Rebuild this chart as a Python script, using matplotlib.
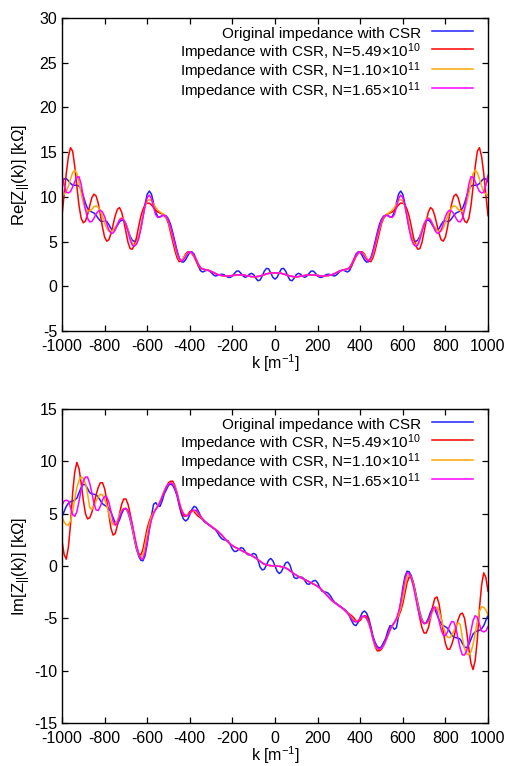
import matplotlib
matplotlib.use("Agg")
import matplotlib.pyplot as plt
import numpy as np

plt.rcParams['font.family'] = ['Liberation Sans', 'DejaVu Sans']
plt.rcParams['mathtext.fontset'] = 'custom'
plt.rcParams['mathtext.rm'] = 'Liberation Sans'
plt.rcParams['mathtext.it'] = 'Liberation Sans:italic'
plt.rcParams['axes.unicode_minus'] = False

# wavenumber grid, k = -1000 ... 1000 step 10
k = np.arange(-1000, 1001, 10)

# ---- real part [kOhm] ----
re_orig = [11.7,
    12.0, 12.05, 11.8, 11.5, 11.3, 11.3, 11.3, 11.2, 10.8, 10.1,
    9.3, 8.7, 8.45, 8.3, 8.2, 7.95, 7.6, 7.3, 7.25, 7.3,
    7.25, 6.9, 6.45, 6.3, 6.45, 6.8, 7.2, 7.4, 7.35, 7.0,
    6.3, 5.6, 5.15, 5.0, 5.15, 5.6, 6.5, 7.8, 9.2, 10.3,
    10.65, 10.3, 9.3, 8.3, 7.75, 7.75, 7.9, 7.95, 7.85, 7.5,
    6.9, 6.0, 5.0, 4.0, 3.2, 2.75, 2.7, 2.95, 3.4, 3.8,
    3.85, 3.6, 3.0, 2.3, 1.75, 1.6, 1.7, 1.8, 1.75, 1.55,
    1.3, 1.15, 1.2, 1.3, 1.35, 1.3, 1.15, 1.0, 1.0, 1.15,
    1.45, 1.7, 1.7, 1.45, 1.15, 1.0, 1.1, 1.35, 1.45, 1.3,
    0.9, 0.62, 0.7, 1.15, 1.7, 2.0, 1.95, 1.5, 1.0,
    0.8, 1.0, 1.5, 1.95, 2.0, 1.7, 1.15, 0.7, 0.62, 0.9,
    1.3, 1.45, 1.35, 1.1, 1.0, 1.15, 1.45, 1.7, 1.7, 1.45,
    1.15, 1.0, 1.0, 1.15, 1.3, 1.35, 1.3, 1.2, 1.15, 1.3,
    1.55, 1.75, 1.8, 1.7, 1.6, 1.75, 2.3, 3.0, 3.6, 3.85,
    3.8, 3.4, 2.95, 2.7, 2.75, 3.2, 4.0, 5.0, 6.0, 6.9,
    7.5, 7.85, 7.95, 7.9, 7.75, 7.75, 8.3, 9.3, 10.3, 10.65,
    10.3, 9.2, 7.8, 6.5, 5.6, 5.15, 5.0, 5.15, 5.6, 6.3,
    7.0, 7.35, 7.4, 7.2, 6.8, 6.45, 6.3, 6.45, 6.9, 7.25,
    7.3, 7.25, 7.3, 7.6, 7.95, 8.2, 8.3, 8.45, 8.7, 9.3,
    10.1, 10.8, 11.2, 11.3, 11.3, 11.3, 11.5, 11.8, 12.05, 12.0,
    11.7]

re_n1 = [7.9,
    10.3, 12.6, 14.5, 15.5, 15.1, 13.4, 11.1, 9.0, 7.6, 7.1,
    7.3, 8.0, 9.0, 9.9, 10.3, 10.1, 9.3, 8.0, 6.6, 5.5,
    5.05, 5.2, 5.9, 6.9, 7.9, 8.6, 8.8, 8.3, 7.3, 6.1,
    4.9, 4.2, 4.15, 4.6, 5.5, 6.7, 7.8, 8.6, 9.1, 9.3,
    9.3, 9.1, 8.8, 8.5, 8.3, 8.2, 8.1, 7.9, 7.6, 7.0,
    6.0, 5.0, 4.0, 3.2, 2.75, 2.85, 3.15, 3.6, 3.85, 3.85,
    3.65, 3.3, 2.8, 2.3, 2.0, 1.93, 1.87, 1.82, 1.76, 1.67,
    1.55, 1.42, 1.32, 1.25, 1.2, 1.17, 1.15, 1.15, 1.17, 1.2,
    1.24, 1.27, 1.28, 1.28, 1.26, 1.22, 1.17, 1.12, 1.08, 1.06,
    1.07, 1.1, 1.15, 1.22, 1.3, 1.38, 1.44, 1.48, 1.5,
    1.5, 1.5, 1.48, 1.44, 1.38, 1.3, 1.22, 1.15, 1.1, 1.07,
    1.06, 1.08, 1.12, 1.17, 1.22, 1.26, 1.28, 1.28, 1.27, 1.24,
    1.2, 1.17, 1.15, 1.15, 1.17, 1.2, 1.25, 1.32, 1.42, 1.55,
    1.67, 1.76, 1.82, 1.87, 1.93, 2.0, 2.3, 2.8, 3.3, 3.65,
    3.85, 3.85, 3.6, 3.15, 2.85, 2.75, 3.2, 4.0, 5.0, 6.0,
    7.0, 7.6, 7.9, 8.1, 8.2, 8.3, 8.5, 8.8, 9.1, 9.3,
    9.3, 9.1, 8.6, 7.8, 6.7, 5.5, 4.6, 4.15, 4.2, 4.9,
    6.1, 7.3, 8.3, 8.8, 8.6, 7.9, 6.9, 5.9, 5.2, 5.05,
    5.5, 6.6, 8.0, 9.3, 10.1, 10.3, 9.9, 9.0, 8.0, 7.3,
    7.1, 7.6, 9.0, 11.1, 13.4, 15.1, 15.5, 14.5, 12.6, 10.3,
    7.9]

re_n2 = [10.2,
    10.3, 10.6, 11.2, 12.0, 12.7, 13.0, 12.6, 11.6, 10.4, 9.3,
    8.6, 8.4, 8.45, 8.6, 8.9, 9.0, 8.85, 8.4, 7.8, 7.1,
    6.5, 6.15, 6.1, 6.3, 6.6, 7.0, 7.5, 7.65, 7.5, 7.0,
    6.3, 5.4, 4.8, 4.6, 4.9, 5.6, 6.7, 7.9, 8.9, 9.5,
    9.7, 9.6, 9.2, 8.8, 8.5, 8.3, 8.15, 8.0, 7.7, 7.2,
    6.4, 5.5, 4.5, 3.6, 3.0, 2.9, 3.1, 3.5, 3.75, 3.8,
    3.7, 3.4, 3.0, 2.5, 2.1, 1.93, 1.87, 1.82, 1.76, 1.67,
    1.55, 1.42, 1.32, 1.25, 1.2, 1.17, 1.15, 1.15, 1.17, 1.2,
    1.24, 1.27, 1.28, 1.28, 1.26, 1.22, 1.17, 1.12, 1.08, 1.06,
    1.07, 1.1, 1.15, 1.22, 1.3, 1.38, 1.44, 1.48, 1.5,
    1.5, 1.5, 1.48, 1.44, 1.38, 1.3, 1.22, 1.15, 1.1, 1.07,
    1.06, 1.08, 1.12, 1.17, 1.22, 1.26, 1.28, 1.28, 1.27, 1.24,
    1.2, 1.17, 1.15, 1.15, 1.17, 1.2, 1.25, 1.32, 1.42, 1.55,
    1.67, 1.76, 1.82, 1.87, 1.93, 2.1, 2.5, 3.0, 3.4, 3.7,
    3.8, 3.75, 3.5, 3.1, 2.9, 3.0, 3.6, 4.5, 5.5, 6.4,
    7.2, 7.7, 8.0, 8.15, 8.3, 8.5, 8.8, 9.2, 9.6, 9.7,
    9.5, 8.9, 7.9, 6.7, 5.6, 4.9, 4.6, 4.8, 5.4, 6.3,
    7.0, 7.5, 7.65, 7.5, 7.0, 6.6, 6.3, 6.1, 6.15, 6.5,
    7.1, 7.8, 8.4, 8.85, 9.0, 8.9, 8.6, 8.45, 8.4, 8.6,
    9.3, 10.4, 11.6, 12.6, 13.0, 12.7, 12.0, 11.2, 10.6, 10.3,
    10.2]

re_n3 = [12.4,
    11.3, 10.5, 10.45, 10.6, 11.1, 11.7, 12.2, 12.25, 11.4, 10.0,
    8.6, 7.6, 7.2, 7.25, 7.6, 8.1, 8.4, 8.5, 8.3, 7.8,
    7.0, 6.3, 5.95, 5.95, 6.3, 6.9, 7.4, 7.6, 7.4, 6.9,
    6.1, 5.2, 4.6, 4.5, 4.7, 5.3, 6.4, 7.7, 9.0, 9.9,
    10.2, 9.8, 8.8, 8.0, 7.7, 7.75, 7.9, 7.95, 7.8, 7.3,
    6.6, 5.7, 4.7, 3.8, 3.1, 2.85, 2.95, 3.3, 3.7, 3.85,
    3.75, 3.45, 3.0, 2.5, 2.1, 1.93, 1.87, 1.82, 1.76, 1.67,
    1.55, 1.42, 1.32, 1.25, 1.2, 1.17, 1.15, 1.15, 1.17, 1.2,
    1.24, 1.27, 1.28, 1.28, 1.26, 1.22, 1.17, 1.12, 1.08, 1.06,
    1.07, 1.1, 1.15, 1.22, 1.3, 1.38, 1.44, 1.48, 1.5,
    1.5, 1.5, 1.48, 1.44, 1.38, 1.3, 1.22, 1.15, 1.1, 1.07,
    1.06, 1.08, 1.12, 1.17, 1.22, 1.26, 1.28, 1.28, 1.27, 1.24,
    1.2, 1.17, 1.15, 1.15, 1.17, 1.2, 1.25, 1.32, 1.42, 1.55,
    1.67, 1.76, 1.82, 1.87, 1.93, 2.1, 2.5, 3.0, 3.45, 3.75,
    3.85, 3.7, 3.3, 2.95, 2.85, 3.1, 3.8, 4.7, 5.7, 6.6,
    7.3, 7.8, 7.95, 7.9, 7.75, 7.7, 8.0, 8.8, 9.8, 10.2,
    9.9, 9.0, 7.7, 6.4, 5.3, 4.7, 4.5, 4.6, 5.2, 6.1,
    6.9, 7.4, 7.6, 7.4, 6.9, 6.3, 5.95, 5.95, 6.3, 7.0,
    7.8, 8.3, 8.5, 8.4, 8.1, 7.6, 7.25, 7.2, 7.6, 8.6,
    10.0, 11.4, 12.25, 12.2, 11.7, 11.1, 10.6, 10.45, 10.5, 11.3,
    12.4]

# ---- imaginary part [kOhm] ----
im_orig = [4.7,
    5.2, 5.7, 6.0, 6.15, 6.2, 6.3, 6.5, 7.0, 7.5, 7.8,
    7.75, 7.4, 7.0, 6.9, 6.85, 6.8, 6.6, 6.25, 5.95, 5.8,
    5.7, 5.5, 5.15, 4.6, 4.15, 4.0, 4.4, 5.0, 5.4, 5.5,
    5.1, 4.4, 3.5, 2.5, 1.6, 0.95, 0.55, 0.5, 1.0, 2.1,
    3.5, 4.8, 5.9, 6.05, 5.75, 5.7, 6.2, 6.9, 7.3, 7.7,
    7.85, 7.7, 7.3, 6.7, 5.8, 5.0, 4.5, 4.3, 4.45, 4.9,
    5.4, 5.7, 5.6, 5.25, 4.8, 4.45, 4.2, 4.05, 3.9, 3.75,
    3.6, 3.45, 3.2, 2.85, 2.6, 2.5, 2.48, 2.4, 2.05, 1.6,
    1.38, 1.42, 1.6, 1.75, 1.7, 1.4, 1.1, 1.05, 1.1, 1.2,
    1.1, 0.55, -0.1, -0.38, -0.3, 0.1, 0.55, 0.72, 0.5,
    0.0, -0.5, -0.72, -0.55, -0.1, 0.3, 0.38, 0.1, -0.55, -1.1,
    -1.2, -1.1, -1.05, -1.1, -1.4, -1.7, -1.75, -1.6, -1.42, -1.38,
    -1.6, -2.05, -2.4, -2.48, -2.5, -2.6, -2.85, -3.2, -3.45, -3.6,
    -3.75, -3.9, -4.05, -4.2, -4.45, -4.8, -5.25, -5.6, -5.7, -5.4,
    -4.9, -4.45, -4.3, -4.5, -5.0, -5.8, -6.7, -7.3, -7.7, -7.85,
    -7.7, -7.3, -6.9, -6.2, -5.7, -5.75, -6.05, -5.9, -4.8, -3.5,
    -2.1, -1.0, -0.5, -0.55, -0.95, -1.6, -2.5, -3.5, -4.4, -5.1,
    -5.5, -5.4, -5.0, -4.4, -4.0, -4.15, -4.6, -5.15, -5.5, -5.7,
    -5.8, -5.95, -6.25, -6.6, -6.8, -6.85, -6.9, -7.0, -7.4, -7.75,
    -7.8, -7.5, -7.0, -6.5, -6.3, -6.2, -6.15, -6.0, -5.7, -5.2,
    -4.7]

im_n1 = [2.4,
    1.1, 0.65, 1.8, 4.0, 7.0, 9.0, 9.9, 9.3, 7.9, 6.3,
    5.0, 4.5, 4.6, 5.1, 5.9, 6.8, 7.5, 7.95, 7.95, 7.4,
    6.3, 4.9, 3.6, 2.95, 3.1, 3.9, 5.0, 5.9, 6.4, 6.4,
    5.9, 5.0, 3.9, 2.7, 1.7, 1.15, 1.05, 1.6, 2.6, 3.6,
    4.3, 4.8, 5.15, 5.4, 5.7, 6.1, 6.6, 7.1, 7.6, 7.95,
    8.1, 8.1, 7.7, 7.0, 6.0, 5.2, 4.8, 4.75, 4.9, 5.2,
    5.3, 5.2, 4.95, 4.75, 4.6, 4.45, 4.25, 4.1, 3.95, 3.8,
    3.65, 3.5, 3.35, 3.15, 2.95, 2.72, 2.5, 2.3, 2.1, 1.95,
    1.82, 1.72, 1.62, 1.5, 1.4, 1.3, 1.2, 1.1, 1.0, 0.88,
    0.75, 0.6, 0.45, 0.3, 0.18, 0.1, 0.06, 0.03, 0.01,
    0.0, -0.01, -0.03, -0.06, -0.1, -0.18, -0.3, -0.45, -0.6, -0.75,
    -0.88, -1.0, -1.1, -1.2, -1.3, -1.4, -1.5, -1.62, -1.72, -1.82,
    -1.95, -2.1, -2.3, -2.5, -2.72, -2.95, -3.15, -3.35, -3.5, -3.65,
    -3.8, -3.95, -4.1, -4.25, -4.45, -4.6, -4.75, -4.95, -5.2, -5.3,
    -5.2, -4.9, -4.75, -4.8, -5.2, -6.0, -7.0, -7.7, -8.1, -8.1,
    -7.95, -7.6, -7.1, -6.6, -6.1, -5.7, -5.4, -5.15, -4.8, -4.3,
    -3.6, -2.6, -1.6, -1.05, -1.15, -1.7, -2.7, -3.9, -5.0, -5.9,
    -6.4, -6.4, -5.9, -5.0, -3.9, -3.1, -2.95, -3.6, -4.9, -6.3,
    -7.4, -7.95, -7.95, -7.5, -6.8, -5.9, -5.1, -4.6, -4.5, -5.0,
    -6.3, -7.9, -9.3, -9.9, -9.0, -7.0, -4.0, -1.8, -0.65, -1.1,
    -2.4]

im_n2 = [4.7,
    4.2, 3.95, 3.9, 4.3, 5.2, 6.4, 7.5, 8.2, 8.5, 8.4,
    7.9, 6.9, 5.6, 5.4, 5.7, 6.2, 6.6, 6.85, 6.8, 6.4,
    5.8, 5.0, 4.3, 3.95, 4.0, 4.4, 4.9, 5.3, 5.5, 5.5,
    5.2, 4.6, 3.7, 2.7, 1.8, 1.1, 0.75, 1.1, 2.0, 3.1,
    4.0, 4.7, 5.1, 5.45, 5.8, 6.2, 6.7, 7.2, 7.6, 7.85,
    7.95, 7.9, 7.6, 7.0, 6.2, 5.5, 5.05, 4.85, 4.85, 5.0,
    5.2, 5.3, 5.2, 4.95, 4.7, 4.5, 4.3, 4.1, 3.95, 3.8,
    3.65, 3.5, 3.35, 3.15, 2.95, 2.72, 2.5, 2.3, 2.1, 1.95,
    1.82, 1.72, 1.62, 1.5, 1.4, 1.3, 1.2, 1.1, 1.0, 0.88,
    0.75, 0.6, 0.45, 0.3, 0.18, 0.1, 0.06, 0.03, 0.01,
    0.0, -0.01, -0.03, -0.06, -0.1, -0.18, -0.3, -0.45, -0.6, -0.75,
    -0.88, -1.0, -1.1, -1.2, -1.3, -1.4, -1.5, -1.62, -1.72, -1.82,
    -1.95, -2.1, -2.3, -2.5, -2.72, -2.95, -3.15, -3.35, -3.5, -3.65,
    -3.8, -3.95, -4.1, -4.3, -4.5, -4.7, -4.95, -5.2, -5.3, -5.2,
    -5.0, -4.85, -4.85, -5.05, -5.5, -6.2, -7.0, -7.6, -7.9, -7.95,
    -7.85, -7.6, -7.2, -6.7, -6.2, -5.8, -5.45, -5.1, -4.7, -4.0,
    -3.1, -2.0, -1.1, -0.75, -1.1, -1.8, -2.7, -3.7, -4.6, -5.2,
    -5.5, -5.5, -5.3, -4.9, -4.4, -4.0, -3.95, -4.3, -5.0, -5.8,
    -6.4, -6.8, -6.85, -6.6, -6.2, -5.7, -5.4, -5.6, -6.9, -7.9,
    -8.4, -8.5, -8.2, -7.5, -6.4, -5.2, -4.3, -3.9, -3.95, -4.2,
    -4.7]

im_n3 = [5.8,
    6.2, 6.3, 6.2, 5.6, 4.9, 4.75, 5.2, 6.2, 7.3, 8.1,
    8.5, 8.5, 7.9, 7.0, 6.0, 5.35, 5.3, 5.7, 6.3, 6.65,
    6.6, 6.1, 5.2, 4.3, 3.9, 4.1, 4.7, 5.2, 5.45, 5.5,
    5.3, 4.8, 4.0, 3.0, 2.0, 1.2, 0.7, 0.65, 1.3, 2.4,
    3.5, 4.4, 5.0, 5.4, 5.7, 6.1, 6.6, 7.1, 7.55, 7.85,
    7.95, 7.85, 7.5, 6.9, 6.1, 5.4, 5.0, 4.8, 4.8, 5.0,
    5.25, 5.35, 5.3, 5.05, 4.75, 4.5, 4.3, 4.1, 3.95, 3.8,
    3.65, 3.5, 3.35, 3.15, 2.95, 2.72, 2.5, 2.3, 2.1, 1.95,
    1.82, 1.72, 1.62, 1.5, 1.4, 1.3, 1.2, 1.1, 1.0, 0.88,
    0.75, 0.6, 0.45, 0.3, 0.18, 0.1, 0.06, 0.03, 0.01,
    0.0, -0.01, -0.03, -0.06, -0.1, -0.18, -0.3, -0.45, -0.6, -0.75,
    -0.88, -1.0, -1.1, -1.2, -1.3, -1.4, -1.5, -1.62, -1.72, -1.82,
    -1.95, -2.1, -2.3, -2.5, -2.72, -2.95, -3.15, -3.35, -3.5, -3.65,
    -3.8, -3.95, -4.1, -4.3, -4.5, -4.75, -5.05, -5.3, -5.35, -5.25,
    -5.0, -4.8, -4.8, -5.0, -5.4, -6.1, -6.9, -7.5, -7.85, -7.95,
    -7.85, -7.55, -7.1, -6.6, -6.1, -5.7, -5.4, -5.0, -4.4, -3.5,
    -2.4, -1.3, -0.65, -0.7, -1.2, -2.0, -3.0, -4.0, -4.8, -5.3,
    -5.5, -5.45, -5.2, -4.7, -4.1, -3.9, -4.3, -5.2, -6.1, -6.6,
    -6.65, -6.3, -5.7, -5.3, -5.35, -6.0, -7.0, -7.9, -8.5, -8.5,
    -8.1, -7.3, -6.2, -5.2, -4.75, -4.9, -5.6, -6.2, -6.3, -6.2,
    -5.8]

labels = ["Original impedance with CSR",
          "Impedance with CSR, N=5.49×10$^{10}$",
          "Impedance with CSR, N=1.10×10$^{11}$",
          "Impedance with CSR, N=1.65×10$^{11}$"]
colors = ["#2020ff", "#ff0000", "#ffa500", "#ff00ff"]

xticks = list(range(-1000, 1001, 200))


def style_axes(ax, ylim, ystep, ylabel):
    ax.set_xlim(-1000, 1000)
    ax.set_ylim(*ylim)
    ax.set_xticks(xticks)
    ax.set_yticks(np.arange(ylim[0], ylim[1] + 1, ystep))
    ax.tick_params(direction="in", top=True, right=True, length=4, width=0.9,
                   labelsize=11.5)
    ax.tick_params(axis="x", pad=5.8)
    ax.tick_params(axis="y", pad=3.5)
    for s in ax.spines.values():
        s.set_linewidth(1.0)
    ax.set_xlabel("k [m$^{-1}$]", fontsize=11.5)
    ax.set_ylabel(ylabel, fontsize=12)
    ax.xaxis.set_label_coords(0.5, -0.069)
    ax.yaxis.set_label_coords(-0.068, 0.5)
    # a tall handle box gives every legend row the same height,
    # whether or not the label has a superscript
    ax.legend(loc="upper right", bbox_to_anchor=(1 - 15 / 426, 1 - 5 / 313),
              frameon=False, markerfirst=False, fontsize=11,
              handlelength=2.7, handletextpad=0.7, handleheight=1.65,
              labelspacing=-0.14, borderaxespad=0, borderpad=0)


fig = plt.figure(figsize=(5.1, 7.66), dpi=100)
ax1 = fig.add_axes([62 / 510, 1 - 331 / 766, 426 / 510, 313 / 766])
ax2 = fig.add_axes([62 / 510, 1 - 723 / 766, 426 / 510, 314 / 766])

for ys, c, lab in zip([re_orig, re_n1, re_n2, re_n3], colors, labels):
    ax1.plot(k, ys, color=c, lw=1.1, label=lab)
for ys, c, lab in zip([im_orig, im_n1, im_n2, im_n3], colors, labels):
    ax2.plot(k, ys, color=c, lw=1.1, label=lab)

style_axes(ax1, (-5, 30), 5, "Re[Z$_{||}$(k)] [kΩ]")
style_axes(ax2, (-15, 15), 5, "Im[Z$_{||}$(k)] [kΩ]")

fig.savefig("out.png", dpi=100)
